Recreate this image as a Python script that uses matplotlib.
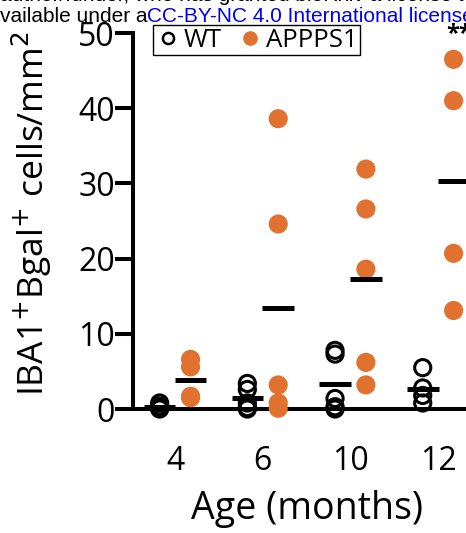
import numpy as np
import matplotlib.pyplot as plt
from matplotlib.lines import Line2D

plt.rcParams['font.family'] = ['Open Sans', 'DejaVu Sans']

ages = ['4', '6', '10', '12']
wt_vals = [
    [0.8, 0.4, 0.2, 0.0, 0.1],
    [3.4, 2.6, 0.8, 0.2, 0.0],
    [7.8, 7.3, 1.4, 0.3, 0.0],
    [5.5, 2.8, 1.8, 0.8],
]
app_vals = [
    [6.6, 5.6, 1.7, 1.5],
    [38.6, 24.6, 3.2, 0.8, 0.1],
    [31.9, 26.6, 18.6, 6.2, 3.2],
    [46.5, 41.0, 20.7, 13.1],
]

orange = '#e1712f'
off = 0.176
half = 0.18

fig = plt.figure(figsize=(4.66, 5.33), dpi=100)
ax = fig.add_axes([133/466, 124/533, 349/466, 376/533])

for i in range(len(ages)):
    w = np.array(wt_vals[i])
    a = np.array(app_vals[i])
    ax.scatter(np.full(len(w), i - off), w, s=135, facecolors='none',
               edgecolors='black', linewidths=2.2, zorder=4, clip_on=False)
    ax.scatter(np.full(len(a), i + off), a, s=190, color=orange,
               edgecolors='none', zorder=3, clip_on=False)
    ax.hlines(w.mean(), i - off - half, i - off + half, color='black', lw=3.6, zorder=5)
    ax.hlines(a.mean(), i + off - half, i + off + half, color='black', lw=3.6, zorder=5)

ax.set_xlim(-0.48, 3.5)
ax.set_ylim(0, 50)
ax.set_yticks([0, 10, 20, 30, 40, 50])
ax.set_xticks(range(len(ages)))
ax.set_xticklabels(ages)
ax.tick_params(axis='y', length=13, width=2.9, labelsize=23, pad=0)
ax.tick_params(axis='x', length=0, labelsize=23, pad=26)
for s in ['top', 'right']:
    ax.spines[s].set_visible(False)
for s in ['left', 'bottom']:
    ax.spines[s].set_linewidth(2.9)

ax.set_ylabel('IBA1$^{+}$Bgal$^{+}$ cells/mm$^{2}$', fontsize=25.5)
ax.yaxis.set_label_coords(-0.225, 0.52)
ax.set_xlabel('Age (months)', fontsize=27, labelpad=8)
ax.xaxis.set_label_coords(174/349, -0.215)

handles = [
    Line2D([], [], marker='o', ls='none', mfc='none', mec='black', mew=1.8, ms=8),
    Line2D([], [], marker='o', ls='none', color=orange, ms=9.5),
]
fig.legend(handles, ['WT', 'APPPS1'], loc='upper left',
           bbox_to_anchor=(153/466, 1 - 25/533), ncol=2, frameon=True,
           fancybox=False, edgecolor='black', framealpha=1, fontsize=18.5,
           handletextpad=0.1, columnspacing=0.6, borderpad=0.1,
           handlelength=1.0, borderaxespad=0)

# cropped preprint header
fig.text(0.0, 1 - 1/533, 'author/funder, who has granted bioRxiv a license to display',
         fontsize=15, family='Liberation Sans', va='baseline')
fig.text(0.0, 1 - 22/533, 'vailable under a', fontsize=15, family='Liberation Sans',
         va='baseline')
fig.text(147/466, 1 - 22/533, 'CC-BY-NC 4.0 International license', fontsize=15,
         family='Liberation Sans', va='baseline', color='#0000ee')
fig.text(446/466, 1 - 40/533, '**', fontsize=17, va='baseline', fontweight='bold')

fig.savefig('out.png', dpi=100)
